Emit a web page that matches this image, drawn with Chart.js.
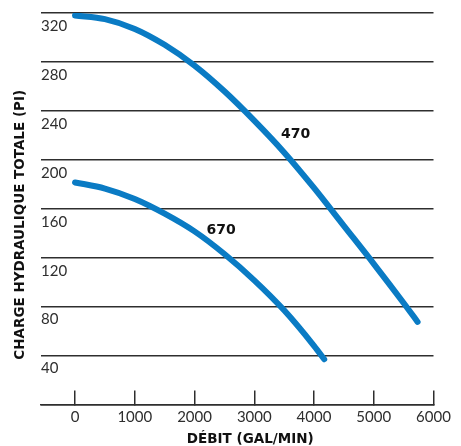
<!DOCTYPE html>
<html>
<head>
<meta charset="utf-8">
<script src="https://cdn.jsdelivr.net/npm/chart.js@4.4.0/dist/chart.umd.min.js"></script>
<style>
  html, body { margin: 0; padding: 0; background: #fff; overflow: hidden; }
</style>
</head>
<body>
<canvas id="pump-chart" width="461" height="446"></canvas>
<script>
// axis ticks
const flowTicks = [0, 1000, 2000, 3000, 4000, 5000, 6000];
const headTicks = [0, 40, 80, 120, 160, 200, 240, 280, 320];

// curve 470 (gal/min, ft)
const flow470 = [0, 500, 1000, 1500, 2000, 2500, 3000, 3500, 4000, 4500, 5000, 5500, 5734];
const head470 = [318, 315, 307, 294, 277, 256, 232, 206, 177, 146, 115, 83, 67.5];

// curve 670
const flow670 = [0, 500, 1000, 1500, 2000, 2500, 3000, 3500, 4000, 4171];
const head670 = [181.5, 176.5, 168, 156, 141.5, 123, 101.5, 77, 48, 37];

// curve names and where they sit
const curveNames = ["470", "670"];
const nameFlow = [3693, 2446];
const nameHead = [221, 142];

const BLUE = "#0a7bc4";
const INK = "#2e2e2e";

function toPoints(xs, ys) {
  return xs.map((x, i) => ({ x: x, y: ys[i] }));
}

const labelsPlugin = {
  id: "pumpLabels",
  afterDraw(chart) {
    const c = chart.ctx;
    const xs = chart.scales.x;
    const ys = chart.scales.y;
    const area = chart.chartArea;
    c.save();
    c.fillStyle = "#111";
    c.textAlign = "center";
    c.textBaseline = "middle";
    c.font = "bold 14px 'DejaVu Sans'";
    curveNames.forEach((n, i) => {
      c.fillText(n, xs.getPixelForValue(nameFlow[i]), ys.getPixelForValue(nameHead[i]));
    });
    // axis titles
    c.font = "bold 13.5px 'DejaVu Sans'";
    c.fillText("DÉBIT (GAL/MIN)", (area.left + area.right) / 2 + 13, 439);
    c.translate(20, (area.top + area.bottom) / 2 + 16);
    c.rotate(-Math.PI / 2);
    c.fillText("CHARGE HYDRAULIQUE TOTALE (PI)", 0, 0);
    c.restore();
  }
};

const ctx = document.getElementById("pump-chart").getContext("2d");
const chart = new Chart(ctx, {
  type: "line",
  data: {
    datasets: [
      {
        label: curveNames[0],
        data: toPoints(flow470, head470),
        borderColor: BLUE,
        borderWidth: 6,
        borderCapStyle: "round",
        pointRadius: 0,
        cubicInterpolationMode: "monotone",
        fill: false
      },
      {
        label: curveNames[1],
        data: toPoints(flow670, head670),
        borderColor: BLUE,
        borderWidth: 6,
        borderCapStyle: "round",
        pointRadius: 0,
        cubicInterpolationMode: "monotone",
        fill: false
      }
    ]
  },
  options: {
    responsive: false,
    animation: false,
    layout: { padding: { top: 13, right: 27.5, left: 0, bottom: 0 } },
    scales: {
      x: {
        type: "linear",
        min: -570,
        max: 6000,
        afterBuildTicks: s => { s.ticks = flowTicks.map(v => ({ value: v })); },
        afterFit: s => {
          s.height = 41.5;
          s.paddingLeft = 0;
          s.paddingRight = 0;
        },
        ticks: {
          color: INK,
          font: { family: "Lato", size: 15 },
          padding: 17.5,
          maxRotation: 0,
          autoSkip: false,
          callback: v => String(v)
        },
        grid: {
          drawOnChartArea: false,
          drawTicks: true,
          tickLength: -14,
          color: INK,
          lineWidth: 1.5
        },
        border: { display: true, color: INK, width: 1.5 }
      },
      y: {
        min: 0,
        max: 320,
        afterBuildTicks: s => { s.ticks = headTicks.map(v => ({ value: v })); },
        afterFit: s => {
          s.width = 41;
          s.paddingTop = 0;
          s.paddingBottom = 0;
        },
        ticks: {
          mirror: true,
          padding: 0,
          labelOffset: 13,
          color: INK,
          font: { family: "Lato", size: 15 },
          callback: v => (v === 0 ? "" : String(v))
        },
        grid: {
          drawTicks: false,
          color: INK,
          lineWidth: 1.5
        },
        border: { display: false }
      }
    },
    plugins: {
      legend: { display: false },
      tooltip: { enabled: false }
    }
  },
  plugins: [labelsPlugin]
});
</script>
</body>
</html>
